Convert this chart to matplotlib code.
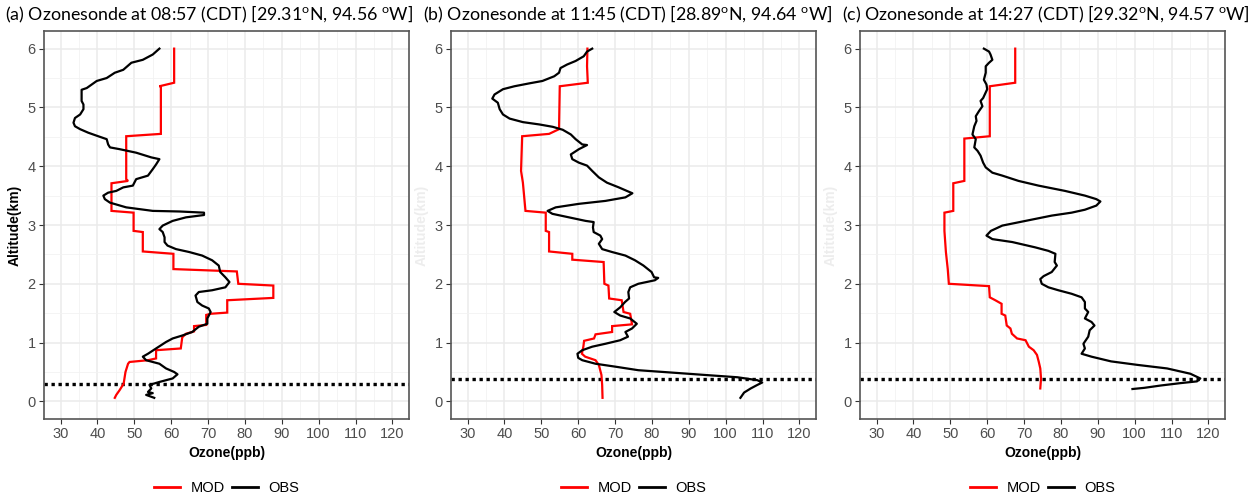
import matplotlib
matplotlib.use("Agg")
import matplotlib.pyplot as plt
from matplotlib.lines import Line2D
from matplotlib.ticker import MultipleLocator

# ---------------- data ----------------
titles = [
    r"(a) Ozonesonde at 08:57 (CDT) [29.31$^{\mathrm{o}}$N, 94.56 $^{\mathrm{o}}$W]",
    r"(b) Ozonesonde at 11:45 (CDT) [28.89$^{\mathrm{o}}$N, 94.64 $^{\mathrm{o}}$W]",
    r"(c) Ozonesonde at 14:27 (CDT) [29.32$^{\mathrm{o}}$N, 94.57 $^{\mathrm{o}}$W]",
]
pbl_heights = [0.30, 0.38, 0.38]
xticks = [30, 40, 50, 60, 70, 80, 90, 100, 110, 120]
yticks = [0, 1, 2, 3, 4, 5, 6]

obs_a_oz = [56.8, 55.0, 52.3, 49.2, 47.0, 44.7, 42.5, 39.8, 37.1, 35.7, 35.7, 36.2, 36.2, 35.3, 33.9, 33.5,
            33.9, 35.3, 37.5, 40.2, 42.5, 42.9, 43.4, 46.0, 50.5, 54.6, 56.8, 55.9, 55.0, 53.7, 50.5, 49.6,
            47.0, 45.1, 42.9, 41.6, 42.0, 43.4, 47.8, 55.0, 62.2, 68.9, 68.9, 64.0, 60.4, 57.7, 56.8, 57.7,
            58.2, 58.2, 59.0, 61.3, 64.9, 68.4, 71.1, 72.9, 73.3, 74.7, 75.8, 74.7, 71.1, 67.5, 66.6, 67.1,
            68.4, 70.2, 70.7, 69.8, 69.8, 67.5, 65.7, 63.0, 60.4, 58.6, 55.9, 53.7, 52.3, 53.2, 56.8, 58.6,
            60.8, 61.7, 60.4, 56.8, 54.1, 54.6, 53.7, 55.0, 53.2, 55.4]
obs_a_alt = [6.00, 5.90, 5.81, 5.76, 5.64, 5.59, 5.50, 5.45, 5.33, 5.30, 5.11, 5.05, 4.97, 4.88, 4.82, 4.74,
             4.68, 4.63, 4.57, 4.51, 4.46, 4.37, 4.32, 4.29, 4.23, 4.15, 4.12, 4.03, 3.95, 3.84, 3.78, 3.67,
             3.64, 3.58, 3.55, 3.50, 3.44, 3.38, 3.30, 3.24, 3.23, 3.21, 3.17, 3.13, 3.07, 2.99, 2.93, 2.88,
             2.79, 2.71, 2.65, 2.59, 2.54, 2.48, 2.40, 2.31, 2.20, 2.11, 2.03, 1.94, 1.89, 1.86, 1.80, 1.69,
             1.63, 1.58, 1.52, 1.41, 1.32, 1.27, 1.18, 1.12, 1.07, 1.01, 0.90, 0.81, 0.76, 0.70, 0.64, 0.56,
             0.50, 0.46, 0.39, 0.33, 0.28, 0.22, 0.16, 0.14, 0.11, 0.06]
mod_a_oz = [60.8, 60.8, 56.8, 57.2, 57.2, 47.8, 47.8, 48.3, 43.8, 43.8, 49.8, 49.8, 52.3, 52.3, 60.6, 60.6,
            77.8, 78.2, 87.7, 87.7, 75.2, 75.2, 70.7, 69.5, 69.5, 66.2, 66.2, 64.0, 63.0, 62.6, 55.9, 55.9,
            53.7, 48.7, 48.3, 47.6, 47.1, 46.0, 45.1, 44.7]
mod_a_alt = [6.00, 5.42, 5.36, 5.36, 4.55, 4.51, 3.78, 3.75, 3.71, 3.24, 3.21, 2.90, 2.88, 2.55, 2.51, 2.25,
             2.21, 2.00, 1.97, 1.76, 1.72, 1.51, 1.49, 1.47, 1.30, 1.28, 1.19, 1.15, 1.09, 0.90, 0.87, 0.73,
             0.70, 0.67, 0.64, 0.50, 0.30, 0.19, 0.11, 0.06]

obs_b_oz = [63.8, 62.4, 61.5, 59.3, 57.0, 55.2, 54.8, 53.5, 50.3, 46.8, 42.7, 39.6, 37.3, 36.7, 38.2, 38.7,
            39.6, 41.4, 45.0, 49.5, 53.1, 55.8, 58.0, 59.3, 61.1, 62.4, 60.2, 58.0, 58.4, 60.2, 62.4, 63.8,
            65.6, 67.8, 71.0, 73.2, 74.7, 72.8, 67.4, 60.2, 53.9, 51.7, 53.0, 57.5, 62.0, 64.2, 64.0, 64.2,
            66.0, 66.5, 65.6, 66.5, 69.2, 72.8, 75.4, 77.7, 79.9, 80.6, 81.7, 80.8, 76.3, 74.1, 73.6, 73.8,
            72.7, 71.4, 69.8, 71.4, 74.1, 75.9, 74.6, 72.8, 73.5, 71.4, 67.4, 63.8, 61.1, 59.8, 60.0, 61.1,
            64.7, 70.1, 76.3, 85.3, 94.2, 103.2, 108.6, 109.9, 108.6, 106.8, 105.0, 104.0]
obs_b_alt = [6.00, 5.95, 5.87, 5.79, 5.73, 5.67, 5.59, 5.53, 5.45, 5.41, 5.36, 5.31, 5.22, 5.15, 5.08, 4.97,
             4.88, 4.81, 4.75, 4.71, 4.67, 4.62, 4.54, 4.46, 4.37, 4.36, 4.29, 4.20, 4.12, 4.06, 4.01, 3.92,
             3.81, 3.72, 3.64, 3.58, 3.54, 3.47, 3.41, 3.36, 3.30, 3.24, 3.19, 3.13, 3.07, 3.05, 2.96, 2.88,
             2.82, 2.76, 2.68, 2.59, 2.54, 2.48, 2.40, 2.31, 2.20, 2.11, 2.10, 2.06, 2.00, 1.94, 1.86, 1.75,
             1.69, 1.60, 1.52, 1.46, 1.41, 1.32, 1.24, 1.18, 1.10, 1.04, 0.98, 0.93, 0.87, 0.81, 0.74, 0.70,
             0.64, 0.59, 0.53, 0.49, 0.45, 0.41, 0.36, 0.32, 0.28, 0.22, 0.15, 0.06]
mod_b_oz = [62.5, 62.4, 62.6, 55.0, 54.8, 52.1, 44.8, 44.5, 45.0, 45.7, 51.2, 51.2, 52.1, 52.1, 58.4, 58.4,
            66.9, 67.1, 68.2, 68.4, 71.8, 72.3, 74.1, 74.6, 69.2, 69.2, 64.7, 64.3, 61.6, 61.4, 61.0, 61.9,
            64.7, 65.6, 66.3, 66.5, 66.6]
mod_b_alt = [6.00, 5.70, 5.42, 5.36, 4.63, 4.55, 4.51, 3.92, 3.72, 3.24, 3.21, 2.90, 2.88, 2.55, 2.51, 2.41,
             2.37, 2.00, 1.97, 1.75, 1.72, 1.52, 1.49, 1.31, 1.28, 1.18, 1.14, 1.07, 1.03, 0.93, 0.81, 0.76,
             0.70, 0.62, 0.45, 0.28, 0.06]

obs_c_oz = [59.1, 60.5, 60.9, 61.4, 60.5, 59.6, 59.6, 59.1, 59.8, 60.0, 58.9, 58.2, 58.7, 57.8, 56.9, 57.1,
            56.5, 56.0, 56.9, 56.5, 57.4, 58.2, 58.9, 59.6, 61.4, 64.1, 68.5, 73.9, 81.1, 86.5, 89.6, 90.7,
            89.6, 86.5, 82.9, 77.5, 70.4, 64.1, 61.0, 59.8, 61.4, 66.8, 73.0, 76.6, 78.5, 78.3, 78.9, 77.5,
            75.3, 74.4, 74.8, 76.6, 79.3, 82.9, 85.6, 86.5, 86.5, 87.4, 86.5, 88.3, 89.1, 87.8, 87.4, 86.1,
            86.5, 85.6, 88.3, 93.6, 100.8, 108.8, 115.1, 117.8, 116.9, 112.4, 107.1, 102.6, 99.4]
obs_c_alt = [6.00, 5.95, 5.90, 5.81, 5.76, 5.70, 5.59, 5.47, 5.39, 5.31, 5.16, 5.11, 5.02, 4.94, 4.85, 4.77,
             4.68, 4.54, 4.46, 4.32, 4.26, 4.18, 4.06, 3.98, 3.89, 3.84, 3.75, 3.67, 3.58, 3.50, 3.44, 3.40,
             3.33, 3.26, 3.21, 3.16, 3.07, 2.99, 2.90, 2.82, 2.76, 2.71, 2.62, 2.56, 2.51, 2.37, 2.31, 2.20,
             2.13, 2.08, 2.00, 1.94, 1.89, 1.83, 1.77, 1.69, 1.58, 1.52, 1.41, 1.35, 1.29, 1.21, 1.10, 0.98,
             0.90, 0.81, 0.76, 0.68, 0.62, 0.56, 0.47, 0.39, 0.34, 0.31, 0.27, 0.23, 0.21]
mod_c_oz = [67.6, 67.6, 60.7, 60.7, 53.8, 53.8, 50.8, 50.8, 48.4, 48.4, 48.8, 49.3, 49.6, 60.5, 60.7, 62.2,
            63.9, 63.9, 64.9, 65.3, 66.3, 66.7, 68.1, 70.4, 71.3, 72.6, 73.5, 74.0, 74.4, 74.6, 74.4]
mod_c_alt = [6.00, 5.42, 5.36, 4.51, 4.47, 3.75, 3.71, 3.24, 3.21, 2.90, 2.54, 2.25, 2.00, 1.96, 1.77, 1.72,
             1.66, 1.49, 1.46, 1.29, 1.24, 1.15, 1.07, 1.04, 0.93, 0.87, 0.79, 0.67, 0.56, 0.39, 0.22]

series = [
    (obs_a_oz, obs_a_alt, mod_a_oz, mod_a_alt),
    (obs_b_oz, obs_b_alt, mod_b_oz, mod_b_alt),
    (obs_c_oz, obs_c_alt, mod_c_oz, mod_c_alt),
]

# ---------------- style ----------------
plt.rcParams['font.family'] = ['Liberation Sans', 'DejaVu Sans']
plt.rcParams['mathtext.fontset'] = 'custom'
plt.rcParams['mathtext.rm'] = 'Lato'

W, H = 1249, 498
fig = plt.figure(figsize=(W / 100, H / 100), dpi=100)

ax_left_px = [44, 451, 860]
ax_w_px = 365
ax_top_px, ax_bot_px = 31, 419
title_x_px = [5, 423, 842]

for i in range(3):
    obs_oz, obs_alt, mod_oz, mod_alt = series[i]
    ax = fig.add_axes([ax_left_px[i] / W, 1 - ax_bot_px / H, ax_w_px / W, (ax_bot_px - ax_top_px) / H])
    ax.set_xlim(25.5, 124.5)
    ax.set_ylim(-0.3, 6.3)
    ax.set_xticks(xticks)
    ax.set_yticks(yticks)
    ax.xaxis.set_minor_locator(MultipleLocator(5))
    ax.yaxis.set_minor_locator(MultipleLocator(0.5))
    ax.grid(which='major', color='#EBEBEB', lw=1.1)
    ax.grid(which='minor', color='#F2F2F2', lw=0.6)
    ax.set_axisbelow(True)
    ax.tick_params(which='minor', length=0)
    ax.tick_params(which='major', length=3.5, width=0.8, color='#333333',
                   labelsize=10.5, labelcolor='#4D4D4D', pad=2.5)
    for s in ax.spines.values():
        s.set_color('#555555')
        s.set_linewidth(1.2)

    ax.axhline(pbl_heights[i], color='black', lw=2.4, linestyle=(0, (1, 1.1)), dash_capstyle='butt', zorder=2)
    ax.plot(mod_oz, mod_alt, color='#FF0000', lw=1.6, zorder=3, solid_joinstyle='miter')
    ax.plot(obs_oz, obs_alt, color='black', lw=1.6, zorder=4)

    ax.set_xlabel('Ozone(ppb)', fontsize=10, fontweight='bold', labelpad=3)
    ax.set_ylabel('Altitude(km)', fontsize=10, fontweight='bold', labelpad=4,
                  color='black' if i == 0 else '#EDEDED')

    handles = [Line2D([], [], color='#FF0000', lw=2.0), Line2D([], [], color='black', lw=2.0)]
    ax.legend(handles, ['MOD', 'OBS'], loc='center', bbox_to_anchor=(0.5, -0.178), ncol=2,
              frameon=False, fontsize=10.5, handlelength=1.8, handletextpad=0.7, columnspacing=0.5)

    t = fig.text(title_x_px[i] / W, 1 - 14 / H, titles[i], ha='left', va='center',
                 fontsize=13, family='Lato', color='black')

# fit title size to reference width (~408 px for panel a)
fig.canvas.draw()
r = fig.canvas.get_renderer()
tt = [t for t in fig.texts]
w0 = tt[0].get_window_extent(r).width
scale = 408 / w0
for t in tt:
    t.set_fontsize(13 * scale)

fig.savefig('out.png', dpi=100)
